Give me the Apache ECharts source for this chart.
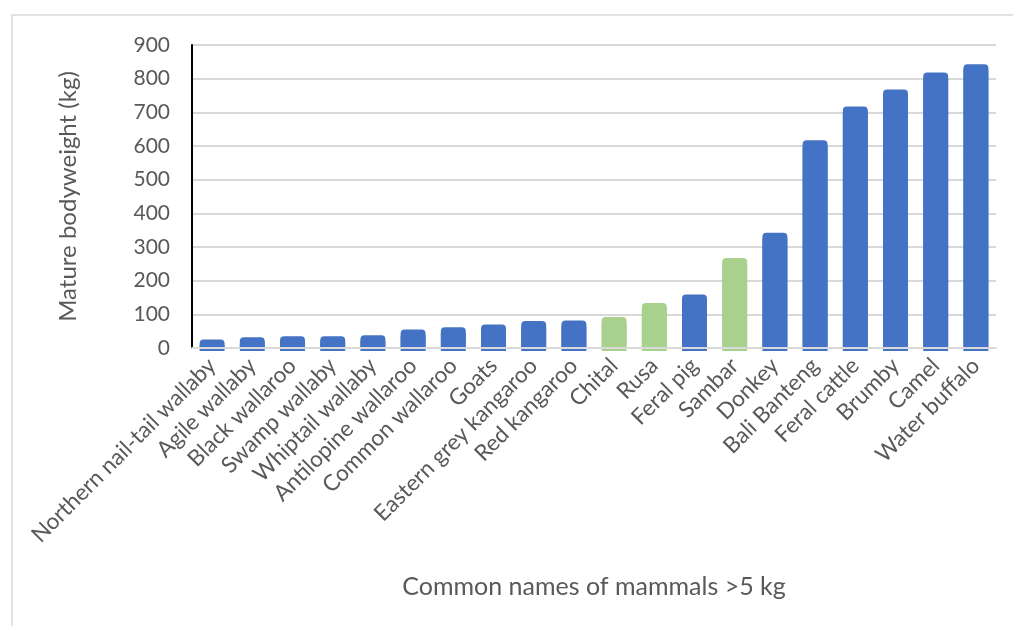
<!DOCTYPE html>
<html>
<head>
<meta charset="utf-8">
<title>Mature bodyweight of mammals</title>
<script src="https://cdn.jsdelivr.net/npm/echarts@6/dist/echarts.min.js"></script>
<style>
  html, body { margin: 0; padding: 0; background: #ffffff; }
  #chart { width: 1013px; height: 626px; }
</style>
</head>
<body>
<div id="chart"></div>
<script>
// Common names of mammals heavier than 5 kg, sorted by mature bodyweight
const categories = [
  'Northern nail-tail wallaby', 'Agile wallaby', 'Black wallaroo', 'Swamp wallaby',
  'Whiptail wallaby', 'Antilopine wallaroo', 'Common wallaroo', 'Goats',
  'Eastern grey kangaroo', 'Red kangaroo', 'Chital', 'Rusa', 'Feral pig', 'Sambar',
  'Donkey', 'Bali Banteng', 'Feral cattle', 'Brumby', 'Camel', 'Water buffalo'
];
// Mature bodyweight (kg)
const bodyweight = [25, 32, 35, 35, 38, 55, 62, 70, 80, 82, 92, 134, 159, 267, 342, 617, 717, 768, 818, 843];
// Deer species are highlighted in green
const deer = ['Chital', 'Rusa', 'Sambar'];
const yTicks = { min: 0, max: 900, interval: 100 };

const BLUE = '#4472C4';
const GREEN = '#A9D18E';
const TEXT = '#595959';
const FONT = 'Lato, "Open Sans", sans-serif';

const barData = categories.map((name, i) => {
  const c = deer.includes(name) ? GREEN : BLUE;
  return {
    value: bodyweight[i],
    itemStyle: { color: c, shadowColor: c, shadowOffsetY: 3, shadowBlur: 0 }
  };
});

const chart = echarts.init(document.getElementById('chart'), null, { renderer: 'canvas' });
chart.setOption({
  animation: false,
  backgroundColor: '#ffffff',
  textStyle: { fontFamily: FONT },
  graphic: [{
    type: 'rect',
    shape: { x: 12, y: 15, width: 1010, height: 620 },
    style: { fill: 'none', stroke: '#d9d9d9', lineWidth: 1.5 },
    silent: true
  }],
  grid: { left: 192, right: 17, top: 45, bottom: 278 },
  xAxis: {
    type: 'category',
    data: categories,
    z: 5,
    axisLine: { show: true, lineStyle: { color: '#d9d9d9', width: 2 } },
    axisTick: { show: false },
    axisLabel: {
      interval: 0, rotate: 45, margin: 14,
      color: TEXT, fontSize: 22.5, fontFamily: FONT
    },
    name: 'Common names of mammals >5 kg',
    nameLocation: 'middle',
    nameGap: 226,
    nameTextStyle: { color: TEXT, fontSize: 25, fontFamily: FONT }
  },
  yAxis: {
    type: 'value',
    min: yTicks.min, max: yTicks.max, interval: yTicks.interval,
    axisLine: { show: true, lineStyle: { color: '#000000', width: 2 } },
    axisTick: { show: false },
    axisLabel: { color: TEXT, fontSize: 21, fontFamily: FONT, margin: 22 },
    splitLine: { lineStyle: { color: '#d9d9d9', width: 2 } },
    name: 'Mature bodyweight (kg)',
    nameLocation: 'middle',
    nameRotate: 90,
    nameGap: 112,
    nameTextStyle: { color: TEXT, fontSize: 24, fontFamily: FONT }
  },
  series: [{
    type: 'bar',
    data: barData,
    barWidth: '62%',
    itemStyle: { borderRadius: [4, 4, 0, 0] }
  }]
});
</script>
</body>
</html>
